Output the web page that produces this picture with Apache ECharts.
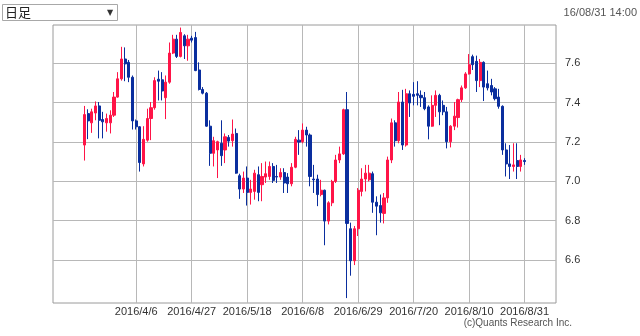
<!DOCTYPE html>
<html><head><meta charset="utf-8">
<script src="https://cdn.jsdelivr.net/npm/echarts@6/dist/echarts.min.js"></script>
<style>html,body{margin:0;padding:0;background:#fff}#c{width:640px;height:336px}</style>
</head><body><div id="c"></div>
<script>
const dates = [
'2016/3/17','2016/3/18','2016/3/21','2016/3/22','2016/3/23','2016/3/24','2016/3/25','2016/3/28','2016/3/29','2016/3/30','2016/3/31',
'2016/4/1','2016/4/4','2016/4/5','2016/4/6','2016/4/7','2016/4/8','2016/4/11','2016/4/12','2016/4/13','2016/4/14','2016/4/15','2016/4/18','2016/4/19','2016/4/20','2016/4/21','2016/4/22','2016/4/25','2016/4/26','2016/4/27','2016/4/28','2016/4/29',
'2016/5/2','2016/5/3','2016/5/4','2016/5/5','2016/5/6','2016/5/9','2016/5/10','2016/5/11','2016/5/12','2016/5/13','2016/5/16','2016/5/17','2016/5/18','2016/5/19','2016/5/20','2016/5/23','2016/5/24','2016/5/25','2016/5/26','2016/5/27','2016/5/30','2016/5/31',
'2016/6/1','2016/6/2','2016/6/3','2016/6/6','2016/6/7','2016/6/8','2016/6/9','2016/6/10','2016/6/13','2016/6/14','2016/6/15','2016/6/16','2016/6/17','2016/6/20','2016/6/21','2016/6/22','2016/6/23','2016/6/24','2016/6/27','2016/6/28','2016/6/29','2016/6/30',
'2016/7/1','2016/7/4','2016/7/5','2016/7/6','2016/7/7','2016/7/8','2016/7/11','2016/7/12','2016/7/13','2016/7/14','2016/7/15','2016/7/18','2016/7/19','2016/7/20','2016/7/21','2016/7/22','2016/7/25','2016/7/26','2016/7/27','2016/7/28','2016/7/29',
'2016/8/1','2016/8/2','2016/8/3','2016/8/4','2016/8/5','2016/8/8','2016/8/9','2016/8/10','2016/8/11','2016/8/12','2016/8/15','2016/8/16','2016/8/17','2016/8/18','2016/8/19','2016/8/22','2016/8/23','2016/8/24','2016/8/25','2016/8/26','2016/8/29','2016/8/30','2016/8/31'
];
const openVals = [
7.184,7.344,7.297,7.347,7.383,7.314,7.297,7.297,7.336,7.428,7.521,
7.622,7.605,7.529,7.307,7.277,7.088,7.209,7.319,7.374,7.519,7.516,7.425,7.504,7.652,7.723,7.635,7.740,7.689,7.728,7.731,7.566,
7.467,7.448,7.280,7.142,7.159,7.193,7.159,7.223,7.206,7.243,7.028,6.960,7.016,6.943,6.948,7.033,6.982,7.021,7.024,7.075,7.024,7.021,
7.044,7.021,6.987,7.071,7.209,7.201,7.260,7.235,7.011,7.011,6.932,6.954,6.797,6.890,6.999,7.108,7.139,7.364,6.758,6.595,6.758,6.948,
7.011,7.007,7.038,6.893,6.876,6.836,6.915,7.108,7.297,7.206,7.403,7.184,7.445,7.442,7.445,7.437,7.425,7.378,7.280,7.386,7.437,
7.386,7.353,7.201,7.280,7.324,7.415,7.475,7.546,7.634,7.610,7.512,7.605,7.496,7.487,7.470,7.428,7.381,7.159,7.088,7.075,7.105,7.075,7.105
];
const closeVals = [
7.339,7.307,7.353,7.383,7.310,7.302,7.319,7.336,7.428,7.521,7.622,
7.597,7.529,7.307,7.277,7.095,7.213,7.319,7.374,7.512,7.509,7.459,7.504,7.652,7.723,7.635,7.757,7.689,7.723,7.718,7.563,7.467,
7.448,7.280,7.142,7.206,7.201,7.130,7.226,7.204,7.240,7.041,6.960,7.016,6.943,6.960,7.041,6.943,7.024,7.038,7.075,7.004,7.021,7.044,
6.991,6.987,7.071,7.213,7.199,7.260,7.235,7.024,7.007,6.932,6.954,6.797,6.890,6.999,7.108,7.139,7.364,6.785,6.595,6.758,6.954,7.011,
7.041,7.041,6.893,6.873,6.839,6.915,7.108,7.297,7.206,7.403,7.184,7.445,7.398,7.432,7.437,7.425,7.369,7.280,7.386,7.437,7.353,
7.353,7.201,7.280,7.331,7.415,7.475,7.546,7.593,7.593,7.512,7.605,7.479,7.475,7.454,7.420,7.381,7.159,7.088,7.075,7.083,7.075,7.108,7.100
];
const lowVals = [
7.105,7.214,7.246,7.310,7.218,7.218,7.252,7.243,7.327,7.425,7.512,
7.509,7.504,7.263,7.263,7.049,7.075,7.201,7.209,7.364,7.411,7.411,7.316,7.496,7.647,7.627,7.630,7.622,7.613,7.706,7.560,7.462,
7.442,7.277,7.078,7.075,7.016,7.078,7.092,7.176,7.176,7.038,6.910,6.940,6.876,6.881,6.906,6.898,6.898,6.991,7.007,6.991,6.991,7.007,
6.940,6.940,6.974,7.066,7.134,7.193,7.176,6.974,6.940,6.873,6.923,6.674,6.780,6.873,6.991,7.092,7.134,6.405,6.519,6.573,6.721,6.923,
6.948,6.999,6.839,6.725,6.789,6.785,6.890,7.092,7.176,7.193,7.159,7.176,7.327,7.386,7.386,7.378,7.361,7.213,7.277,7.327,7.285,
7.336,7.167,7.172,7.260,7.273,7.403,7.470,7.543,7.566,7.454,7.479,7.408,7.462,7.437,7.411,7.369,7.134,7.024,7.011,7.049,7.011,7.049,7.083
];
const highVals = [
7.383,7.366,7.369,7.406,7.403,7.353,7.344,7.361,7.454,7.555,7.684,
7.681,7.617,7.538,7.314,7.280,7.280,7.369,7.403,7.529,7.563,7.555,7.538,7.706,7.745,7.745,7.782,7.748,7.745,7.740,7.760,7.605,
7.479,7.454,7.310,7.226,7.206,7.310,7.243,7.235,7.314,7.268,7.038,7.049,7.075,7.007,7.058,7.075,7.092,7.100,7.100,7.092,7.083,7.066,
7.066,7.041,7.092,7.226,7.260,7.294,7.277,7.243,7.083,7.033,7.007,6.957,6.898,7.007,7.134,7.176,7.369,7.454,6.789,6.772,6.965,7.066,
7.083,7.083,7.049,6.923,6.932,6.940,7.125,7.319,7.310,7.454,7.465,7.470,7.462,7.504,7.509,7.462,7.454,7.386,7.437,7.462,7.445,
7.411,7.378,7.285,7.403,7.420,7.487,7.555,7.647,7.644,7.639,7.622,7.610,7.563,7.521,7.479,7.470,7.386,7.193,7.184,7.193,7.193,7.134,7.117
];
const tickLabels = ['2016/4/6','2016/4/27','2016/5/18','2016/6/8','2016/6/29','2016/7/20','2016/8/10','2016/8/31'];
const yTicks = [6.6, 6.8, 7.0, 7.2, 7.4, 7.6];
const padBefore = ['p1','p2','p3','p4','p5','p6','p7','p8'];
const padAfter = ['q1','q2','q3','q4','q5','q6','q7','q8'];

const categories = padBefore.concat(dates, padAfter);
const source = dates.map((d, i) => [d, openVals[i], closeVals[i], lowVals[i], highVals[i]]);
const labelSet = new Set(tickLabels);
const showTick = (idx, val) => labelSet.has(val);
const UP = '#ff1447', DOWN = '#0a2e9e';

const chart = echarts.init(document.getElementById('c'), null, {renderer: 'canvas'});
chart.setOption({
  animation: false,
  backgroundColor: '#ffffff',
  textStyle: {fontFamily: 'Liberation Sans'},
  grid: {left: 53, right: 84, top: 25, bottom: 33, show: true, borderColor: '#9a9a9a', borderWidth: 1, backgroundColor: 'transparent'},
  dataset: {source: source},
  xAxis: {
    type: 'category', data: categories, boundaryGap: true,
    axisLine: {show: false}, axisTick: {show: false},
    axisLabel: {interval: showTick, color: '#333', fontSize: 11, margin: 3, fontFamily: 'Liberation Sans',
      formatter: v => labelSet.has(v) ? v : ''},
    splitLine: {show: true, interval: showTick, alignWithLabel: true, lineStyle: {color: '#b8b8b8', width: 1}}
  },
  yAxis: {
    type: 'value', position: 'right', min: 6.38, max: 7.795, scale: true,
    axisLine: {show: false},
    axisTick: {show: false, customValues: yTicks},
    axisLabel: {customValues: yTicks, color: '#333', fontSize: 11, margin: 9, fontFamily: 'Liberation Sans',
      formatter: v => Number(v).toFixed(1)},
    splitLine: {show: true, lineStyle: {color: '#b8b8b8', width: 1}}
  },
  series: [{
    type: 'candlestick',
    encode: {x: 0, y: [1, 2, 3, 4]},
    barWidth: 2.6,
    itemStyle: {color: UP, color0: DOWN, borderColor: UP, borderColor0: DOWN, borderWidth: 1}
  }],
  graphic: [
    {type: 'rect', shape: {x: 2.5, y: 4.5, width: 115, height: 16}, style: {fill: '#fff', stroke: '#a8a8a8', lineWidth: 1}},
    {type: 'text', x: 5, y: 12.5, style: {text: '日足', font: '13px "Noto Sans CJK JP"', fill: '#222', verticalAlign: 'middle'}},
    {type: 'text', x: 110, y: 12.5, style: {text: '▼', font: '8px "DejaVu Sans"', fill: '#333', align: 'center', verticalAlign: 'middle'}},
    {type: 'text', x: 637, y: 13, style: {text: '16/08/31 14:00', font: '11px "Liberation Sans"', fill: '#555', align: 'right', verticalAlign: 'middle'}},
    {type: 'text', x: 572, y: 323, style: {text: '(c)Quants Research Inc.', font: '10px "Liberation Sans"', fill: '#555', align: 'right', verticalAlign: 'middle'}}
  ]
});
</script></body></html>
